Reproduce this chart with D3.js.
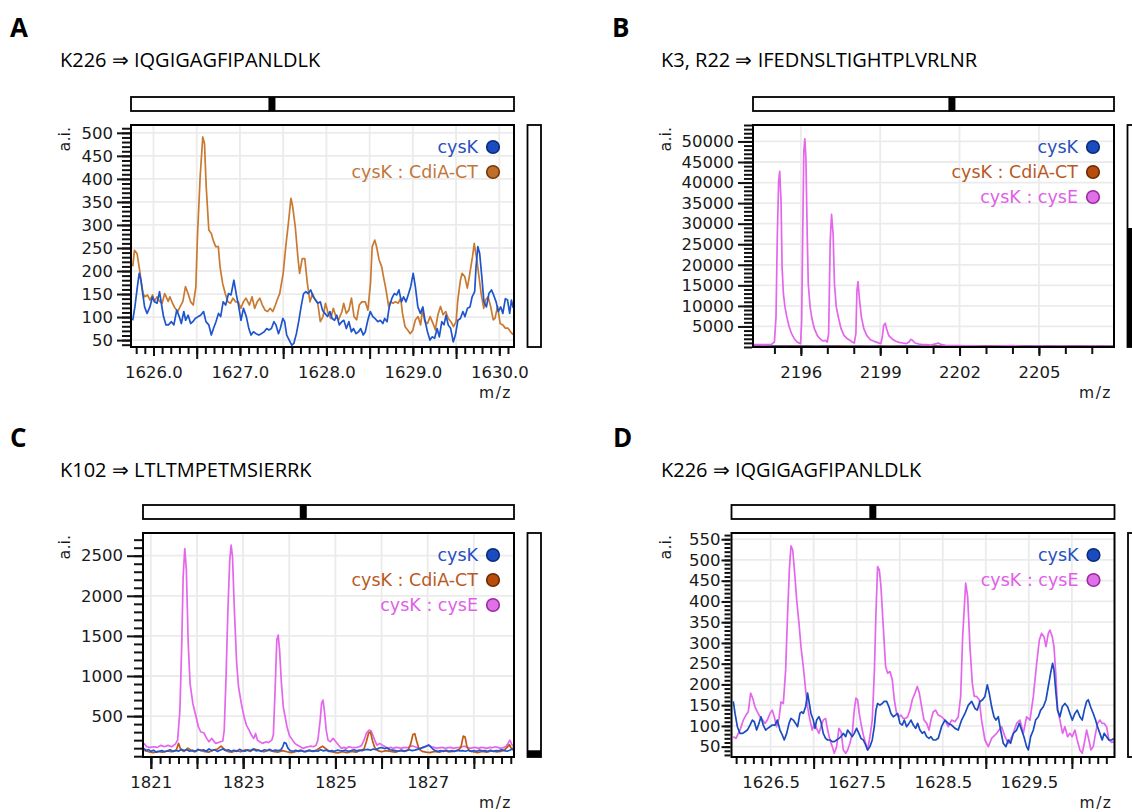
<!DOCTYPE html>
<html>
<head>
<meta charset="utf-8">
<script src="https://cdn.jsdelivr.net/npm/d3@7"></script>
<style>
  body { margin: 0; background: #fff; }
</style>
</head>
<body>
<svg id="chart" width="1132" height="812"></svg>
<script>
// ---------- data ----------
const titleA = "K226 \u21D2 IQGIGAGFIPANLDLK";
const titleB = "K3, R22 \u21D2 IFEDNSLTIGHTPLVRLNR";
const titleC = "K102 \u21D2 LTLTMPETMSIERRK";
const titleD = "K226 \u21D2 IQGIGAGFIPANLDLK";

const aXDomain = [1625.74, 1630.17], aYDomain = [35, 517];
const bXDomain = [2194.19, 2207.84], bYDomain = [0, 54000];
const cXDomain = [1820.83, 1828.87], cYDomain = [-10, 2783];
const dXDomain = [1626.046, 1630.495], dYDomain = [25, 565];

const aXLabels = [1626.0, 1627.0, 1628.0, 1629.0, 1630.0];
const aYLabels = [50, 100, 150, 200, 250, 300, 350, 400, 450, 500];
const bXLabels = [2196, 2199, 2202, 2205];
const bYLabels = [5000, 10000, 15000, 20000, 25000, 30000, 35000, 40000, 45000, 50000];
const cXLabels = [1821, 1823, 1825, 1827];
const cYLabels = [500, 1000, 1500, 2000, 2500];
const dXLabels = [1626.5, 1627.5, 1628.5, 1629.5];
const dYLabels = [50, 100, 150, 200, 250, 300, 350, 400, 450, 500, 550];

// position of the window marker on the overview bar (fraction) and fill of side bar
const overviewPos = { A: 0.368, B: 0.551, C: 0.432, D: 0.369 };
const sideFill = { A: 0, B: 0.536, C: 0.03, D: 0 };

// [m/z, intensity]
const aBlue = [[1625.76,93],[1625.785,122],[1625.814,166],[1625.835,195],[1625.855,180],[1625.876,151],[1625.897,122],[1625.926,108],[1625.959,122],[1625.988,144],[1626.012,133],[1626.041,130],[1626.070,155],[1626.091,130],[1626.116,101],[1626.145,83],[1626.174,83],[1626.207,90],[1626.236,83],[1626.269,115],[1626.298,101],[1626.322,86],[1626.351,112],[1626.372,93],[1626.401,104],[1626.430,86],[1626.455,90],[1626.483,97],[1626.517,101],[1626.545,104],[1626.579,112],[1626.607,90],[1626.640,83],[1626.669,61],[1626.694,75],[1626.723,90],[1626.752,108],[1626.777,101],[1626.806,133],[1626.835,126],[1626.868,151],[1626.897,148],[1626.930,180],[1626.959,148],[1626.983,126],[1627.012,93],[1627.041,119],[1627.074,101],[1627.103,75],[1627.128,61],[1627.157,68],[1627.186,64],[1627.219,61],[1627.248,64],[1627.281,68],[1627.310,75],[1627.335,72],[1627.364,75],[1627.393,90],[1627.417,83],[1627.446,64],[1627.467,75],[1627.496,97],[1627.517,90],[1627.541,61],[1627.570,50],[1627.599,39],[1627.624,43],[1627.653,64],[1627.682,93],[1627.707,122],[1627.736,151],[1627.764,155],[1627.789,151],[1627.818,159],[1627.847,144],[1627.876,137],[1627.901,130],[1627.930,133],[1627.955,115],[1627.983,108],[1628.012,101],[1628.041,112],[1628.066,97],[1628.095,93],[1628.120,104],[1628.149,83],[1628.178,90],[1628.202,93],[1628.231,75],[1628.260,90],[1628.289,68],[1628.314,75],[1628.343,64],[1628.372,68],[1628.397,75],[1628.426,61],[1628.450,68],[1628.479,93],[1628.508,112],[1628.537,101],[1628.562,97],[1628.595,90],[1628.624,93],[1628.653,86],[1628.674,97],[1628.702,90],[1628.727,122],[1628.756,140],[1628.785,151],[1628.814,148],[1628.839,159],[1628.868,133],[1628.893,144],[1628.921,133],[1628.946,148],[1628.975,166],[1629.004,195],[1629.029,166],[1629.058,122],[1629.087,108],[1629.116,122],[1629.140,93],[1629.169,68],[1629.198,50],[1629.223,57],[1629.252,54],[1629.281,75],[1629.306,57],[1629.335,90],[1629.360,83],[1629.384,104],[1629.409,83],[1629.438,75],[1629.467,46],[1629.492,61],[1629.521,93],[1629.550,97],[1629.579,112],[1629.603,101],[1629.632,119],[1629.661,122],[1629.686,144],[1629.715,155],[1629.731,209],[1629.752,253],[1629.773,238],[1629.798,187],[1629.822,133],[1629.851,122],[1629.880,151],[1629.909,159],[1629.934,148],[1629.963,133],[1629.988,112],[1630.017,122],[1630.041,108],[1630.070,140],[1630.095,137],[1630.120,108],[1630.140,137],[1630.16,120]];

const aOrange = [[1625.76,210],[1625.78,245],[1625.81,238],[1625.84,202],[1625.86,173],[1625.88,151],[1625.90,144],[1625.93,148],[1625.96,137],[1625.99,148],[1626.01,134],[1626.04,144],[1626.07,134],[1626.10,130],[1626.13,151],[1626.17,134],[1626.19,144],[1626.22,130],[1626.25,119],[1626.28,112],[1626.31,123],[1626.34,134],[1626.37,166],[1626.40,151],[1626.43,133],[1626.46,126],[1626.49,166],[1626.51,281],[1626.54,405],[1626.57,491],[1626.59,477],[1626.61,383],[1626.64,289],[1626.67,281],[1626.69,267],[1626.72,253],[1626.75,253],[1626.77,209],[1626.80,173],[1626.83,151],[1626.86,133],[1626.89,130],[1626.92,141],[1626.95,133],[1626.98,133],[1627.01,119],[1627.04,133],[1627.07,141],[1627.11,126],[1627.14,144],[1627.17,119],[1627.20,133],[1627.23,141],[1627.26,126],[1627.29,115],[1627.32,112],[1627.35,119],[1627.38,112],[1627.41,126],[1627.43,137],[1627.46,151],[1627.50,195],[1627.53,253],[1627.56,303],[1627.59,358],[1627.61,340],[1627.64,296],[1627.67,231],[1627.69,195],[1627.72,227],[1627.75,227],[1627.78,173],[1627.81,133],[1627.84,151],[1627.87,137],[1627.90,130],[1627.93,90],[1627.96,101],[1627.99,130],[1628.02,108],[1628.05,97],[1628.08,119],[1628.11,101],[1628.14,94],[1628.18,112],[1628.20,130],[1628.23,108],[1628.26,115],[1628.29,141],[1628.32,101],[1628.35,94],[1628.38,126],[1628.41,133],[1628.45,133],[1628.48,115],[1628.51,173],[1628.53,253],[1628.56,267],[1628.58,253],[1628.61,224],[1628.64,209],[1628.66,188],[1628.69,159],[1628.72,123],[1628.74,133],[1628.77,130],[1628.80,133],[1628.83,130],[1628.86,141],[1628.88,108],[1628.91,79],[1628.94,72],[1628.97,64],[1629.00,72],[1629.03,94],[1629.06,101],[1629.09,83],[1629.11,115],[1629.14,90],[1629.17,86],[1629.20,101],[1629.24,83],[1629.26,72],[1629.29,105],[1629.32,123],[1629.35,105],[1629.38,112],[1629.41,97],[1629.44,90],[1629.47,79],[1629.50,90],[1629.52,137],[1629.55,180],[1629.57,195],[1629.60,188],[1629.63,163],[1629.65,184],[1629.69,231],[1629.71,260],[1629.74,224],[1629.76,195],[1629.79,151],[1629.82,119],[1629.84,137],[1629.87,144],[1629.90,123],[1629.93,94],[1629.95,97],[1629.98,123],[1630.01,86],[1630.04,83],[1630.07,76],[1630.10,76],[1630.13,68],[1630.16,62]];

const bBlue = [[2194.2,260],[2194.6,230],[2195.0,280],[2195.4,250],[2195.8,300],[2196.2,260],[2196.6,240],[2197.0,280],[2197.4,250],[2197.8,230],[2198.2,270],[2198.6,240],[2199.0,260],[2199.4,230],[2199.8,280],[2200.2,250],[2200.6,240],[2201.0,270],[2201.4,230],[2201.8,260],[2202.2,240],[2202.6,280],[2203.0,250],[2203.4,230],[2203.8,260],[2204.2,240],[2204.6,270],[2205.0,230],[2205.4,260],[2205.8,240],[2206.2,280],[2206.6,250],[2207.0,230],[2207.4,260],[2207.84,240]];
const bOrange = [[2194.2,150],[2194.7,120],[2195.2,170],[2195.7,140],[2196.2,160],[2196.7,120],[2197.2,150],[2197.7,130],[2198.2,170],[2198.7,120],[2199.2,140],[2199.7,160],[2200.2,120],[2200.7,150],[2201.2,130],[2201.7,160],[2202.2,120],[2202.7,150],[2203.2,170],[2203.7,130],[2204.2,150],[2204.7,120],[2205.2,160],[2205.7,140],[2206.2,120],[2206.7,150],[2207.2,130],[2207.84,150]];
const bPink = [[2194.2,573],[2194.62,573],[2194.89,653],[2195.00,1218],[2195.06,7270],[2195.11,27430],[2195.16,40330],[2195.20,42750],[2195.25,35490],[2195.29,19360],[2195.34,12900],[2195.40,9690],[2195.47,7270],[2195.56,4850],[2195.65,3230],[2195.75,2020],[2195.86,1218],[2195.93,974],[2195.99,815],[2196.03,6460],[2196.07,27430],[2196.11,47600],[2196.15,50650],[2196.19,45980],[2196.24,27430],[2196.28,15330],[2196.35,9690],[2196.42,6860],[2196.51,4450],[2196.62,2830],[2196.72,2020],[2196.80,1620],[2196.86,1460],[2196.93,1620],[2197.00,1218],[2197.05,3230],[2197.11,25820],[2197.16,32270],[2197.22,27430],[2197.27,15330],[2197.34,9690],[2197.43,6860],[2197.52,4450],[2197.63,2830],[2197.75,2020],[2197.86,1620],[2197.94,1218],[2198.02,974],[2198.08,3230],[2198.12,13720],[2198.16,15890],[2198.22,11300],[2198.29,7270],[2198.38,4450],[2198.49,2830],[2198.63,1780],[2198.77,1380],[2198.91,1057],[2199.02,815],[2199.08,2430],[2199.13,5250],[2199.19,5810],[2199.24,4450],[2199.32,2830],[2199.44,2020],[2199.57,1460],[2199.71,1137],[2199.85,974],[2199.99,815],[2200.09,1218],[2200.16,1860],[2200.22,1620],[2200.32,974],[2200.46,734],[2200.60,573],[2200.74,573],[2200.92,490],[2201.13,815],[2201.19,974],[2201.29,653],[2201.47,411],[2201.68,330],[2201.96,330],[2202.23,250],[2202.51,250],[2202.93,170],[2203.34,170],[2203.76,250],[2204.03,330],[2204.31,170],[2204.86,170],[2205.56,170],[2206.25,170],[2206.94,170],[2207.84,170]];

const cBlue = [[1820.85,97],[1820.90,70],[1820.95,83],[1821.00,60],[1821.06,75],[1821.12,50],[1821.18,62],[1821.24,70],[1821.30,55],[1821.36,66],[1821.42,80],[1821.48,60],[1821.54,75],[1821.60,62],[1821.66,85],[1821.72,70],[1821.78,80],[1821.84,62],[1821.90,75],[1821.96,60],[1822.02,85],[1822.08,70],[1822.14,80],[1822.20,62],[1822.26,90],[1822.32,70],[1822.38,80],[1822.44,60],[1822.50,75],[1822.56,90],[1822.62,70],[1822.68,80],[1822.74,62],[1822.80,75],[1822.86,60],[1822.92,85],[1822.98,70],[1823.04,62],[1823.10,80],[1823.16,70],[1823.22,90],[1823.28,66],[1823.34,75],[1823.40,60],[1823.46,80],[1823.52,70],[1823.58,85],[1823.64,66],[1823.70,75],[1823.76,70],[1823.82,80],[1823.86,120],[1823.89,171],[1823.93,160],[1823.97,100],[1824.02,70],[1824.08,62],[1824.14,75],[1824.20,60],[1824.26,70],[1824.32,55],[1824.38,66],[1824.44,75],[1824.50,60],[1824.56,70],[1824.62,62],[1824.68,80],[1824.74,66],[1824.80,75],[1824.86,60],[1824.92,70],[1824.98,62],[1825.04,75],[1825.10,70],[1825.16,66],[1825.22,75],[1825.28,62],[1825.34,70],[1825.40,80],[1825.46,66],[1825.52,75],[1825.58,70],[1825.64,80],[1825.70,85],[1825.76,75],[1825.82,90],[1825.88,80],[1825.94,100],[1826.00,109],[1826.06,95],[1826.12,105],[1826.18,80],[1826.24,75],[1826.30,70],[1826.36,62],[1826.42,75],[1826.48,66],[1826.54,70],[1826.60,80],[1826.66,70],[1826.72,75],[1826.78,85],[1826.84,95],[1826.90,110],[1826.96,125],[1827.02,138],[1827.06,120],[1827.11,90],[1827.16,70],[1827.22,62],[1827.28,70],[1827.34,60],[1827.40,75],[1827.46,62],[1827.52,70],[1827.58,60],[1827.64,75],[1827.70,66],[1827.76,70],[1827.82,62],[1827.88,75],[1827.94,60],[1828.00,70],[1828.06,62],[1828.12,75],[1828.18,66],[1828.24,70],[1828.30,62],[1828.36,75],[1828.42,60],[1828.48,70],[1828.54,66],[1828.60,80],[1828.66,70],[1828.72,62],[1828.78,75],[1828.84,97],[1828.87,90]];
const cOrange = [[1820.85,75],[1820.95,55],[1821.05,45],[1821.15,60],[1821.25,50],[1821.35,65],[1821.45,55],[1821.55,70],[1821.60,160],[1821.65,80],[1821.72,60],[1821.80,100],[1821.88,70],[1821.95,55],[1822.05,80],[1822.15,60],[1822.25,50],[1822.35,75],[1822.45,90],[1822.52,125],[1822.58,95],[1822.66,60],[1822.75,50],[1822.85,70],[1822.95,55],[1823.05,80],[1823.15,60],[1823.25,90],[1823.35,70],[1823.45,55],[1823.55,75],[1823.65,60],[1823.75,50],[1823.85,70],[1823.95,55],[1824.05,45],[1824.15,60],[1824.25,75],[1824.35,55],[1824.45,70],[1824.55,60],[1824.65,100],[1824.72,125],[1824.80,90],[1824.88,60],[1824.96,50],[1825.05,40],[1825.15,55],[1825.25,45],[1825.35,60],[1825.45,50],[1825.55,75],[1825.62,90],[1825.67,180],[1825.72,290],[1825.76,300],[1825.80,200],[1825.85,110],[1825.92,70],[1826.00,55],[1826.10,70],[1826.20,60],[1826.30,50],[1826.40,70],[1826.50,60],[1826.58,80],[1826.63,150],[1826.68,270],[1826.72,280],[1826.76,190],[1826.81,90],[1826.88,60],[1826.96,50],[1827.05,45],[1827.15,60],[1827.25,50],[1827.35,70],[1827.45,55],[1827.55,60],[1827.65,70],[1827.72,110],[1827.77,250],[1827.81,240],[1827.85,120],[1827.90,70],[1827.98,55],[1828.08,45],[1828.18,60],[1828.28,50],[1828.38,65],[1828.48,55],[1828.58,60],[1828.66,75],[1828.72,110],[1828.77,145],[1828.82,90],[1828.87,70]];
const cPink = [[1820.85,160],[1820.91,118],[1820.98,110],[1821.06,118],[1821.14,110],[1821.22,135],[1821.29,118],[1821.37,135],[1821.45,118],[1821.53,150],[1821.58,200],[1821.63,575],[1821.67,1405],[1821.70,2237],[1821.735,2590],[1821.77,2320],[1821.81,1405],[1821.85,906],[1821.91,658],[1821.98,492],[1822.03,367],[1822.08,305],[1822.15,290],[1822.21,222],[1822.26,180],[1822.32,222],[1822.35,200],[1822.40,160],[1822.46,170],[1822.51,180],[1822.56,190],[1822.59,325],[1822.63,990],[1822.67,1822],[1822.71,2445],[1822.74,2632],[1822.77,2487],[1822.81,1822],[1822.86,1157],[1822.90,866],[1822.96,658],[1823.02,492],[1823.07,388],[1823.13,325],[1823.18,263],[1823.23,222],[1823.27,284],[1823.31,200],[1823.36,180],[1823.42,160],[1823.50,180],[1823.55,170],[1823.62,200],[1823.655,263],[1823.69,783],[1823.73,1449],[1823.76,1510],[1823.79,1323],[1823.83,906],[1823.87,616],[1823.91,492],[1823.95,367],[1824.00,263],[1824.07,200],[1824.12,160],[1824.18,137],[1824.24,118],[1824.30,97],[1824.35,110],[1824.41,118],[1824.47,125],[1824.52,118],[1824.58,137],[1824.62,200],[1824.67,450],[1824.70,658],[1824.73,700],[1824.76,575],[1824.80,325],[1824.84,200],[1824.89,180],[1824.95,222],[1825.01,180],[1825.07,137],[1825.13,97],[1825.18,110],[1825.24,97],[1825.29,118],[1825.35,110],[1825.40,106],[1825.46,110],[1825.52,118],[1825.57,137],[1825.62,200],[1825.67,284],[1825.73,325],[1825.77,318],[1825.81,263],[1825.85,200],[1825.90,137],[1825.96,160],[1826.02,137],[1826.08,118],[1826.14,97],[1826.20,110],[1826.25,97],[1826.31,110],[1826.37,106],[1826.43,97],[1826.49,110],[1826.55,106],[1826.61,118],[1826.66,130],[1826.72,118],[1826.78,106],[1826.84,97],[1826.90,110],[1826.96,118],[1827.02,140],[1827.08,118],[1827.14,110],[1827.20,97],[1827.26,106],[1827.32,110],[1827.38,97],[1827.44,106],[1827.50,110],[1827.56,97],[1827.62,106],[1827.68,110],[1827.74,118],[1827.80,125],[1827.86,110],[1827.92,97],[1827.98,106],[1828.04,110],[1828.10,97],[1828.16,110],[1828.22,106],[1828.28,97],[1828.34,110],[1828.40,106],[1828.46,118],[1828.52,110],[1828.58,97],[1828.64,106],[1828.70,125],[1828.74,160],[1828.78,200],[1828.82,150],[1828.87,110]];

const dBlue = [[1626.067,159],[1626.087,130],[1626.114,98],[1626.145,82],[1626.176,82],[1626.203,86],[1626.230,90],[1626.261,102],[1626.288,114],[1626.311,110],[1626.338,90],[1626.365,106],[1626.388,122],[1626.415,102],[1626.443,90],[1626.466,94],[1626.493,98],[1626.520,102],[1626.551,102],[1626.578,114],[1626.609,90],[1626.636,78],[1626.659,66],[1626.687,82],[1626.714,106],[1626.737,118],[1626.764,114],[1626.791,106],[1626.814,98],[1626.841,130],[1626.861,134],[1626.880,130],[1626.907,146],[1626.930,179],[1626.950,154],[1626.969,130],[1626.996,114],[1627.016,94],[1627.035,114],[1627.062,122],[1627.085,110],[1627.112,82],[1627.139,70],[1627.163,66],[1627.190,66],[1627.217,62],[1627.240,62],[1627.267,66],[1627.294,70],[1627.318,74],[1627.345,82],[1627.372,74],[1627.395,90],[1627.422,82],[1627.449,74],[1627.472,82],[1627.499,94],[1627.526,82],[1627.550,70],[1627.577,66],[1627.604,54],[1627.627,42],[1627.654,50],[1627.681,66],[1627.705,98],[1627.724,138],[1627.743,154],[1627.770,150],[1627.797,154],[1627.820,159],[1627.848,159],[1627.875,146],[1627.898,130],[1627.925,122],[1627.952,126],[1627.976,130],[1628.003,106],[1628.030,102],[1628.053,114],[1628.080,98],[1628.107,106],[1628.131,114],[1628.158,102],[1628.185,94],[1628.208,106],[1628.235,90],[1628.262,82],[1628.286,86],[1628.313,74],[1628.340,70],[1628.363,74],[1628.390,66],[1628.417,66],[1628.448,70],[1628.486,98],[1628.525,114],[1628.564,106],[1628.603,102],[1628.642,94],[1628.680,90],[1628.719,114],[1628.758,130],[1628.797,150],[1628.836,159],[1628.874,142],[1628.901,138],[1628.932,159],[1628.963,163],[1628.990,171],[1629.017,199],[1629.040,179],[1629.068,146],[1629.095,122],[1629.118,114],[1629.145,122],[1629.172,90],[1629.203,58],[1629.234,50],[1629.261,66],[1629.288,58],[1629.320,82],[1629.358,90],[1629.389,106],[1629.416,90],[1629.443,74],[1629.474,50],[1629.494,42],[1629.521,74],[1629.552,90],[1629.579,114],[1629.610,122],[1629.637,138],[1629.668,146],[1629.699,163],[1629.726,195],[1629.753,227],[1629.776,251],[1629.792,235],[1629.815,179],[1629.834,138],[1629.861,122],[1629.888,146],[1629.919,154],[1629.950,146],[1629.977,130],[1630.004,114],[1630.035,130],[1630.062,138],[1630.093,122],[1630.120,114],[1630.144,138],[1630.171,159],[1630.190,163],[1630.217,146],[1630.248,130],[1630.275,114],[1630.298,98],[1630.325,82],[1630.352,66],[1630.375,82],[1630.403,74],[1630.430,66],[1630.461,66],[1630.49,70]];
const dPink = [[1626.067,74],[1626.098,70],[1626.125,82],[1626.152,94],[1626.183,114],[1626.214,126],[1626.241,134],[1626.268,179],[1626.292,167],[1626.319,146],[1626.346,134],[1626.377,122],[1626.408,114],[1626.435,106],[1626.462,114],[1626.493,130],[1626.520,138],[1626.543,122],[1626.570,98],[1626.598,118],[1626.621,158],[1626.648,154],[1626.675,235],[1626.698,372],[1626.718,476],[1626.737,534],[1626.757,524],[1626.780,468],[1626.803,404],[1626.830,347],[1626.853,291],[1626.880,243],[1626.907,187],[1626.930,146],[1626.957,114],[1626.984,90],[1627.008,106],[1627.035,94],[1627.062,82],[1627.085,98],[1627.112,114],[1627.139,118],[1627.163,90],[1627.190,66],[1627.217,50],[1627.240,34],[1627.267,50],[1627.294,94],[1627.318,86],[1627.345,42],[1627.372,34],[1627.395,42],[1627.422,58],[1627.449,82],[1627.472,138],[1627.492,167],[1627.511,163],[1627.530,130],[1627.550,106],[1627.577,78],[1627.604,58],[1627.627,42],[1627.654,74],[1627.681,114],[1627.705,227],[1627.724,372],[1627.743,484],[1627.763,476],[1627.782,436],[1627.809,339],[1627.836,243],[1627.860,227],[1627.887,231],[1627.914,211],[1627.937,163],[1627.964,130],[1627.991,122],[1628.014,126],[1628.041,118],[1628.068,118],[1628.092,122],[1628.119,138],[1628.146,163],[1628.177,179],[1628.204,195],[1628.228,179],[1628.255,146],[1628.282,114],[1628.313,106],[1628.340,90],[1628.363,114],[1628.390,134],[1628.417,138],[1628.448,126],[1628.486,122],[1628.525,114],[1628.564,98],[1628.603,114],[1628.642,110],[1628.680,122],[1628.708,171],[1628.731,315],[1628.766,444],[1628.789,412],[1628.816,291],[1628.843,203],[1628.866,171],[1628.893,171],[1628.924,163],[1628.951,114],[1628.990,66],[1629.029,50],[1629.068,70],[1629.126,82],[1629.184,98],[1629.223,74],[1629.261,58],[1629.320,82],[1629.358,106],[1629.397,114],[1629.436,82],[1629.474,122],[1629.513,114],[1629.552,171],[1629.591,251],[1629.622,307],[1629.648,323],[1629.676,315],[1629.699,291],[1629.726,323],[1629.745,331],[1629.772,315],[1629.792,291],[1629.815,219],[1629.834,138],[1629.861,114],[1629.892,82],[1629.919,98],[1629.950,74],[1629.977,82],[1630.004,74],[1630.035,90],[1630.062,66],[1630.093,42],[1630.120,34],[1630.144,58],[1630.171,90],[1630.198,66],[1630.221,42],[1630.248,50],[1630.275,82],[1630.298,106],[1630.325,114],[1630.352,106],[1630.375,106],[1630.403,98],[1630.430,66],[1630.461,60],[1630.49,62]];

// ---------- styles ----------
const BLUE = "#1f55cc";
const ORANGE_A = "#c97a30";
const ORANGE = "#c05a14";
const PINK = "#e466ec";

const legendStyles = {
  cysK: { label: "cysK", text: "#2a50c0", fill: "#1a4cc0", stroke: "#0b2a7a" },
  cdiA: { label: "cysK : CdiA-CT", text: "#c2763a", fill: "#c06f28", stroke: "#74380c" },
  cdiA2: { label: "cysK : CdiA-CT", text: "#b85a24", fill: "#b84c0c", stroke: "#6a2a05" },
  cysE: { label: "cysK : cysE", text: "#e060e8", fill: "#e070e8", stroke: "#9a2aa0" }
};

const svg = d3.select("#chart");
const TICK_FONT = "DejaVu Sans";

function tickRange(domain, step) {
  const n0 = Math.ceil(domain[0] / step - 1e-6);
  const n1 = Math.floor(domain[1] / step + 1e-6);
  return d3.range(n0, n1 + 1).map(i => +(i * step).toFixed(4));
}

function styleAxis(sel) {
  sel.select(".domain").remove();
  sel.selectAll(".tick line").attr("stroke", "#111").attr("stroke-width", 2);
  sel.selectAll(".tick text")
    .attr("font-family", TICK_FONT)
    .attr("font-size", 16.5)
    .attr("fill", "#1a1a1a");
}

function drawPanel(p) {
  const x = d3.scaleLinear().domain(p.xDomain).range([p.left, p.right]);
  const y = d3.scaleLinear().domain(p.yDomain).range([p.bottom, p.top]);
  const g = svg.append("g");

  // panel letter and title
  g.append("text")
    .attr("x", p.letterX).attr("y", p.letterY)
    .attr("font-family", "Open Sans").attr("font-weight", 700).attr("font-size", 26)
    .text(p.letter);
  g.append("text")
    .attr("x", p.titleX).attr("y", p.titleY)
    .attr("font-family", "Open Sans").attr("font-size", 20)
    .text(p.title);

  // overview bar above
  const bx = d3.scaleLinear().domain([0, 1]).range([p.left, p.right]);
  g.append("rect")
    .attr("x", p.left).attr("y", p.top - 28)
    .attr("width", p.right - p.left).attr("height", 14)
    .attr("fill", "#fff").attr("stroke", "#000").attr("stroke-width", 1.8);
  g.append("rect")
    .attr("x", bx(overviewPos[p.letter]) - 3.5).attr("y", p.top - 28)
    .attr("width", 7).attr("height", 14)
    .attr("fill", "#000");

  // side bar
  const sy = d3.scaleLinear().domain([0, 1]).range([p.bottom, p.top]);
  g.append("rect")
    .attr("x", p.right + 13.5).attr("y", p.top)
    .attr("width", 13.5).attr("height", p.bottom - p.top)
    .attr("fill", "#fff").attr("stroke", "#000").attr("stroke-width", 1.8);
  if (sideFill[p.letter] > 0) {
    g.append("rect")
      .attr("x", p.right + 13.5).attr("y", sy(sideFill[p.letter]))
      .attr("width", 13.5).attr("height", p.bottom - sy(sideFill[p.letter]))
      .attr("fill", "#000");
  }

  // gridlines
  g.append("g").selectAll("line")
    .data(p.xGrid).join("line")
    .attr("x1", d => x(d)).attr("x2", d => x(d))
    .attr("y1", p.top).attr("y2", p.bottom)
    .attr("stroke", "#ebebeb").attr("stroke-width", 1.8);
  g.append("g").selectAll("line")
    .data(p.yLabels).join("line")
    .attr("x1", p.left).attr("x2", p.right)
    .attr("y1", d => y(d)).attr("y2", d => y(d))
    .attr("stroke", "#ebebeb").attr("stroke-width", 1.8);

  // spectra
  const clipId = "clip" + p.letter;
  svg.append("clipPath").attr("id", clipId)
    .append("rect")
    .attr("x", p.left).attr("y", p.top)
    .attr("width", p.right - p.left).attr("height", p.bottom - p.top);

  const line = d3.line().x(d => x(d[0])).y(d => y(d[1]));
  const lines = g.append("g").attr("clip-path", `url(#${clipId})`);
  p.series.forEach(s => {
    lines.append("path")
      .datum(s.values)
      .attr("fill", "none")
      .attr("stroke", s.color)
      .attr("stroke-width", 1.7)
      .attr("stroke-linejoin", "round")
      .attr("d", line);
  });

  // frame
  g.append("rect")
    .attr("x", p.left).attr("y", p.top)
    .attr("width", p.right - p.left).attr("height", p.bottom - p.top)
    .attr("fill", "none").attr("stroke", "#000").attr("stroke-width", 2);

  // x axis: minor, mid and labelled ticks
  const xb = `translate(0,${p.bottom + 1})`;
  g.append("g").attr("transform", xb)
    .call(d3.axisBottom(x).tickValues(tickRange(p.xDomain, p.xMinor)).tickSize(6).tickFormat(""))
    .call(styleAxis);
  if (p.xMid) {
    g.append("g").attr("transform", xb)
      .call(d3.axisBottom(x).tickValues(p.xMid).tickSize(11).tickFormat(""))
      .call(styleAxis);
  }
  g.append("g").attr("transform", xb)
    .call(d3.axisBottom(x).tickValues(p.xLabels).tickSize(p.xLabelTick).tickFormat(""))
    .call(styleAxis);
  g.append("g").attr("transform", xb)
    .call(d3.axisBottom(x).tickValues(p.xLabels).tickSize(0).tickPadding(18).tickFormat(d3.format(p.xFormat)))
    .call(styleAxis)
    .call(a => a.selectAll(".tick line").remove());

  // y axis
  const yl = `translate(${p.left - 1},0)`;
  g.append("g").attr("transform", yl)
    .call(d3.axisLeft(y).tickValues(tickRange(p.yDomain, p.yMinor)).tickSize(p.yMinorLen).tickFormat(""))
    .call(styleAxis);
  g.append("g").attr("transform", yl)
    .call(d3.axisLeft(y).tickValues(p.yLabels).tickSize(p.yMajorLen).tickFormat(""))
    .call(styleAxis);
  g.append("g").attr("transform", yl)
    .call(d3.axisLeft(y).tickValues(p.yLabels).tickSize(0).tickPadding(p.yPad).tickFormat(d3.format("d")))
    .call(styleAxis)
    .call(a => a.selectAll(".tick line").remove());

  // axis names
  g.append("text")
    .attr("transform", `translate(${p.aiX},${p.top + 2}) rotate(-90)`)
    .attr("text-anchor", "end")
    .attr("font-family", TICK_FONT).attr("font-size", 16).attr("fill", "#1a1a1a")
    .text("a.i.");
  g.append("text")
    .attr("x", p.right - 2).attr("y", p.bottom + 51)
    .attr("text-anchor", "end")
    .attr("font-family", TICK_FONT).attr("font-size", 15.5).attr("fill", "#1a1a1a")
    .attr("letter-spacing", 1.5)
    .text("m/z");

  // legend
  const lg = g.append("g");
  p.legend.forEach((key, i) => {
    const st = legendStyles[key];
    const cy = p.top + 22 + i * 25;
    lg.append("circle")
      .attr("cx", p.right - 21).attr("cy", cy).attr("r", 6.3)
      .attr("fill", st.fill).attr("stroke", st.stroke).attr("stroke-width", 1.6);
    lg.append("text")
      .attr("x", p.right - 36).attr("y", cy + 6)
      .attr("text-anchor", "end")
      .attr("font-family", TICK_FONT).attr("font-size", 17.5).attr("fill", st.text)
      .text(st.label);
  });
}

const panels = [
  {
    letter: "A", letterX: 10, letterY: 37, title: titleA, titleX: 60, titleY: 67,
    left: 131, right: 514, top: 125, bottom: 347,
    xDomain: aXDomain, yDomain: aYDomain,
    xLabels: aXLabels, xFormat: ".1f", xMinor: 0.1, xMid: [1626.5, 1627.5, 1628.5, 1629.5], xLabelTick: 8,
    xGrid: tickRange(aXDomain, 0.5),
    yLabels: aYLabels, yMinor: 10, yMinorLen: 8, yMajorLen: 13, yPad: 17, aiX: 70,
    series: [{ values: aOrange, color: ORANGE_A }, { values: aBlue, color: BLUE }],
    legend: ["cysK", "cdiA"]
  },
  {
    letter: "B", letterX: 612, letterY: 37, title: titleB, titleX: 661, titleY: 67,
    left: 753, right: 1114, top: 125, bottom: 347,
    xDomain: bXDomain, yDomain: bYDomain,
    xLabels: bXLabels, xFormat: "d", xMinor: 1, xMid: null, xLabelTick: 8,
    xGrid: bXLabels,
    yLabels: bYLabels, yMinor: 1000, yMinorLen: 8, yMajorLen: 14, yPad: 18, aiX: 671,
    series: [{ values: bBlue, color: BLUE }, { values: bOrange, color: ORANGE }, { values: bPink, color: PINK }],
    legend: ["cysK", "cdiA2", "cysE"]
  },
  {
    letter: "C", letterX: 10, letterY: 447, title: titleC, titleX: 60, titleY: 477,
    left: 143, right: 514, top: 533, bottom: 757,
    xDomain: cXDomain, yDomain: cYDomain,
    xLabels: cXLabels, xFormat: "d", xMinor: 0.2, xMid: tickRange(cXDomain, 1), xLabelTick: 11,
    xGrid: tickRange(cXDomain, 1),
    yLabels: cYLabels, yMinor: 100, yMinorLen: 8, yMajorLen: 15, yPad: 19, aiX: 70,
    series: [{ values: cPink, color: PINK }, { values: cOrange, color: ORANGE }, { values: cBlue, color: BLUE }],
    legend: ["cysK", "cdiA2", "cysE"]
  },
  {
    letter: "D", letterX: 613, letterY: 447, title: titleD, titleX: 661, titleY: 477,
    left: 731.5, right: 1114.5, top: 533, bottom: 757,
    xDomain: dXDomain, yDomain: dYDomain,
    xLabels: dXLabels, xFormat: ".1f", xMinor: 0.1, xMid: [1627, 1628, 1629, 1630], xLabelTick: 8,
    xGrid: tickRange(dXDomain, 0.5),
    yLabels: dYLabels, yMinor: 10, yMinorLen: 6, yMajorLen: 9, yPad: 10, aiX: 671,
    series: [{ values: dPink, color: PINK }, { values: dBlue, color: "#1a4cc0" }],
    legend: ["cysK", "cysE"]
  }
];

panels.forEach(drawPanel);
</script>
</body>
</html>
